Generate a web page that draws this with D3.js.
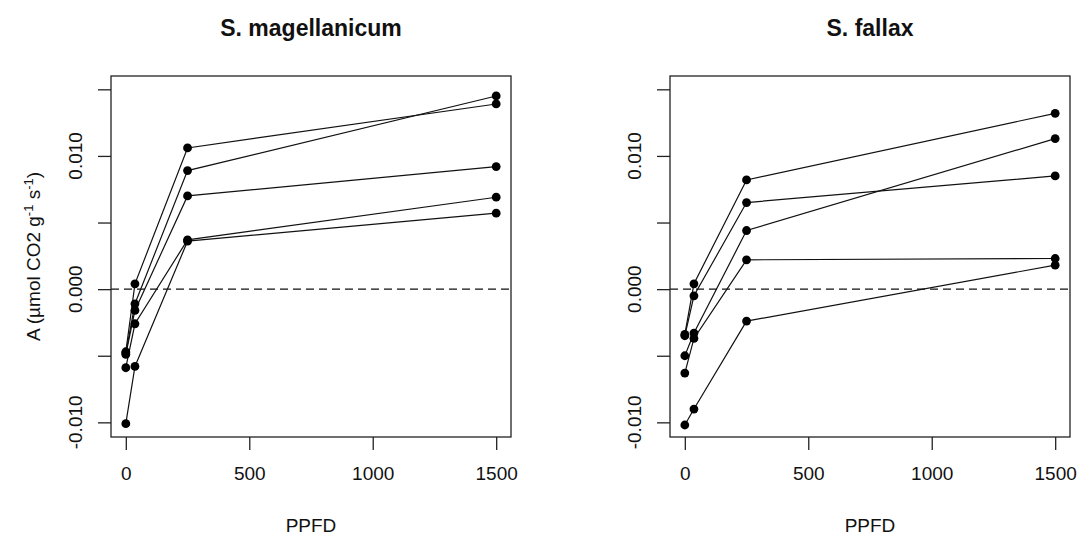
<!DOCTYPE html>
<html>
<head>
<meta charset="utf-8">
<script src="https://d3js.org/d3.v7.min.js"></script>
<style>
    body { margin: 0; background: #fff; }
    text { font-family: "Liberation Sans", Arial, sans-serif; fill: #111; }
    .box { fill: none; stroke: #222; stroke-width: 1.3px; }
    .tick line { stroke: #222; stroke-width: 1.3px; }
    .series { fill: none; stroke: #111; stroke-width: 1.2px; }
    .zero { stroke: #111; stroke-width: 1.2px; stroke-dasharray: 8,5; }
</style>
</head>
<body>
<div id="chart"></div>
<script>
    // light levels (PPFD) shared by both species
    const ppfd = [0, 37, 250, 1500];

    // net assimilation, one row per replicate, one value per PPFD level
    const magellanicum = [
        [-0.0047, 0.0004, 0.0106, 0.0139],
        [-0.0048, -0.0011, 0.0089, 0.0145],
        [-0.0049, -0.0016, 0.0070, 0.0092],
        [-0.0059, -0.0026, 0.0037, 0.0069],
        [-0.0101, -0.0058, 0.0036, 0.0057]
    ];
    const fallax = [
        [-0.0034, 0.0004, 0.0082, 0.0132],
        [-0.0035, -0.0005, 0.0065, 0.0085],
        [-0.0050, -0.0033, 0.0044, 0.0113],
        [-0.0063, -0.0037, 0.0022, 0.0023],
        [-0.0102, -0.0090, -0.0024, 0.0018]
    ];

    const xTicks = [0, 500, 1000, 1500];
    const yTicks = [-0.010, -0.005, 0, 0.005, 0.010, 0.015];
    const yLabels = [-0.010, 0, 0.010];

    const panels = [
        { title: "S. magellanicum", data: magellanicum, dx: 0, ylab: true },
        { title: "S. fallax", data: fallax, dx: 559, ylab: false }
    ];

    const width = 1081, height = 539;
    const svg = d3.select("#chart").append("svg")
        .attr("width", width)
        .attr("height", height);

    const x = d3.scaleLinear().domain([-60, 1560]).range([111, 511]);
    const y = d3.scaleLinear().domain([-0.0111, 0.0160]).range([437, 76]);

    panels.forEach(p => {
        const g = svg.append("g").attr("transform", `translate(${p.dx},0)`);

        // zero reference line
        g.append("line")
            .attr("class", "zero")
            .attr("x1", x.range()[0]).attr("x2", x.range()[1])
            .attr("y1", y(0)).attr("y2", y(0));

        const line = d3.line()
            .x((d, i) => x(ppfd[i]))
            .y(d => y(d));

        g.selectAll("path.series")
            .data(p.data)
            .enter().append("path")
            .attr("class", "series")
            .attr("d", line);

        p.data.forEach(row => {
            g.append("g").selectAll("circle")
                .data(row)
                .enter().append("circle")
                .attr("cx", (d, i) => x(ppfd[i]))
                .attr("cy", d => y(d))
                .attr("r", 4.4)
                .attr("fill", "#000");
        });

        // x axis
        const xAxis = g.append("g")
            .attr("transform", `translate(0,${y.range()[0]})`)
            .call(d3.axisBottom(x).tickValues(xTicks).tickFormat(d3.format("d"))
                .tickSize(13).tickPadding(17).tickSizeOuter(0));
        xAxis.select(".domain").remove();
        xAxis.selectAll("text").style("font-size", "19px").style("fill", "#111");

        // y axis, labels drawn rotated like base R
        const yAxis = g.append("g")
            .attr("transform", `translate(${x.range()[0]},0)`)
            .call(d3.axisLeft(y).tickValues(yTicks).tickSize(13).tickFormat(""));
        yAxis.select(".domain").remove();

        g.selectAll("text.ylab")
            .data(yLabels)
            .enter().append("text")
            .attr("class", "ylab")
            .attr("transform", d => `translate(75,${y(d)}) rotate(-90)`)
            .attr("text-anchor", "middle")
            .attr("dy", "0.35em")
            .style("font-size", "19px")
            .text(d => d3.format(".3f")(d).replace("−", "-"));

        g.append("rect")
            .attr("class", "box")
            .attr("x", x.range()[0]).attr("y", y.range()[1])
            .attr("width", x.range()[1] - x.range()[0])
            .attr("height", y.range()[0] - y.range()[1]);

        g.append("text")
            .attr("x", (x.range()[0] + x.range()[1]) / 2)
            .attr("y", 36)
            .attr("text-anchor", "middle")
            .style("font-size", "23px")
            .style("font-weight", "bold")
            .text(p.title);

        g.append("text")
            .attr("x", (x.range()[0] + x.range()[1]) / 2)
            .attr("y", 532)
            .attr("text-anchor", "middle")
            .style("font-size", "19px")
            .text("PPFD");

        if (p.ylab) {
            const t = g.append("text")
                .attr("transform", `translate(40,${(y.range()[0] + y.range()[1]) / 2}) rotate(-90)`)
                .attr("text-anchor", "middle")
                .style("font-size", "19px");
            t.append("tspan").text("A (µmol CO2 g");
            t.append("tspan").attr("baseline-shift", "super").style("font-size", "13px").text("-1");
            t.append("tspan").text(" s");
            t.append("tspan").attr("baseline-shift", "super").style("font-size", "13px").text("-1");
            t.append("tspan").text(")");
        }
    });
</script>
</body>
</html>
